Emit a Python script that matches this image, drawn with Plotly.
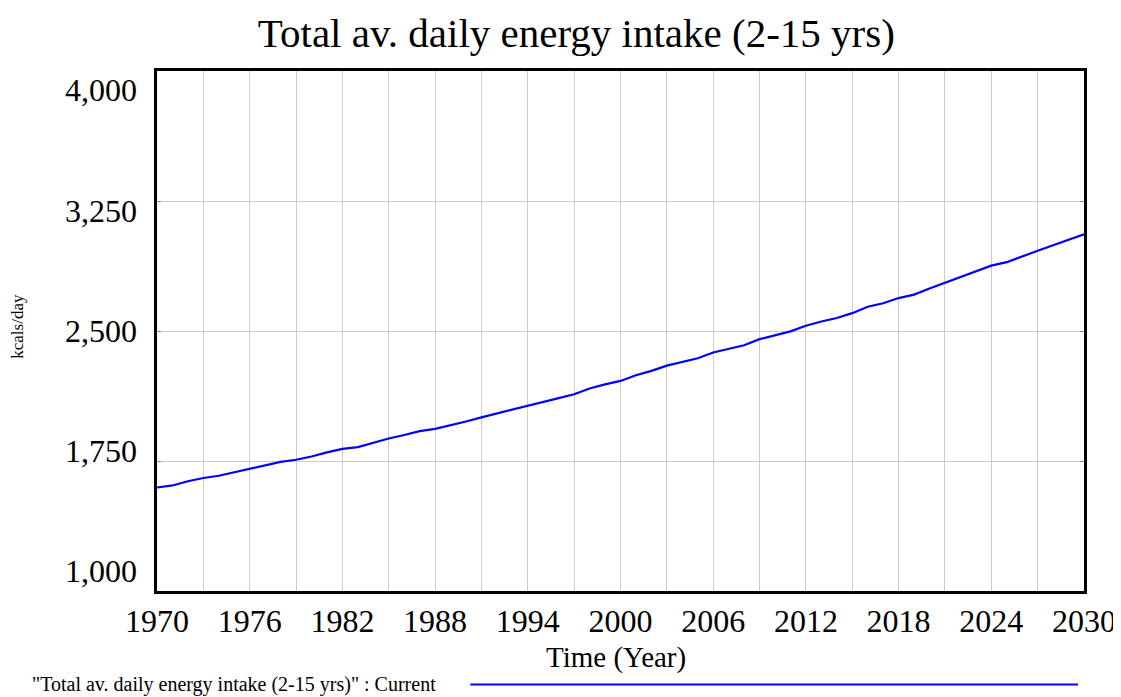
import plotly.graph_objects as go

# Data
years = list(range(1970, 2031))
intake = [
    1597, 1609, 1633, 1652, 1665, 1686, 1706, 1726, 1745, 1757,
    1776, 1800, 1820, 1830, 1855, 1880, 1900, 1922, 1935, 1955,
    1978, 2002, 2025, 2046, 2069, 2092, 2113, 2135, 2168, 2192,
    2212, 2245, 2270, 2300, 2322, 2343, 2376, 2398, 2418, 2453,
    2475, 2498, 2530, 2555, 2575, 2603, 2640, 2660, 2690, 2710,
    2745, 2778, 2812, 2847, 2877, 2897, 2928, 2963, 2995, 3027,
    3058,
]
y_ticks = [1000, 1750, 2500, 3250, 4000]
x_ticks = list(range(1970, 2031, 6))

SERIF = "Liberation Serif, Times New Roman, serif"

fig = go.Figure()
fig.add_trace(go.Scatter(
    x=years, y=intake, mode="lines",
    line=dict(color="#0000ff", width=2.2),
    showlegend=False,
))
# invisible trace carrying the (inset) y tick labels
fig.add_trace(go.Scatter(
    x=[years[0]], y=[y_ticks[0]], yaxis="y2", mode="markers",
    marker=dict(opacity=0), showlegend=False, hoverinfo="skip",
))

fig.update_layout(
    width=1121, height=697,
    margin=dict(l=149, r=45, t=63, b=114),
    paper_bgcolor="white", plot_bgcolor="white",
    font=dict(family=SERIF, color="black"),
    title=dict(text="Total av. daily energy intake (2-15 yrs)",
               x=0.507, xanchor="center", y=0.965, yanchor="middle",
               font=dict(size=41, family=SERIF)),
    xaxis=dict(
        range=[1970, 2030], tickvals=x_ticks,
        tickfont=dict(size=32), ticks="",
        showgrid=True, gridcolor="#cccccc", gridwidth=1,
        minor=dict(dtick=3, tick0=1970, showgrid=True, gridcolor="#cccccc"),
        showline=True, linecolor="black", linewidth=3, mirror=True,
        zeroline=False,
    ),
    yaxis=dict(
        range=[1000, 4000], tickvals=y_ticks, showticklabels=False,
        ticks="inside", ticklen=4, tickcolor="#888888",
        showgrid=True, gridcolor="#cccccc", gridwidth=1,
        showline=True, linecolor="black", linewidth=3, mirror="allticks",
        zeroline=False,
    ),
    yaxis2=dict(
        overlaying="y", side="left", range=[875, 4120],
        tickvals=y_ticks, tickformat=",", tickfont=dict(size=32),
        showgrid=False, zeroline=False, showline=False, ticks="",
        ticklabelstandoff=19,
    ),
)

# axis titles
fig.add_annotation(
    text="Time (Year)", xref="paper", yref="paper", x=0.495, y=-0.127,
    xanchor="center", yanchor="middle", showarrow=False,
    font=dict(size=29, family=SERIF),
)
fig.add_annotation(
    text="kcals/day", xref="paper", yref="paper", x=-0.15, y=0.51,
    xanchor="center", yanchor="middle", showarrow=False, textangle=-90,
    font=dict(size=17, family=SERIF),
)

# legend row at the bottom
fig.add_annotation(
    text='"Total av. daily energy intake (2-15 yrs)" : Current',
    xref="paper", yref="paper", x=-0.137, y=-0.18,
    xanchor="left", yanchor="middle", showarrow=False,
    font=dict(size=20, family=SERIF),
)
fig.add_shape(
    type="line", xref="paper", yref="paper",
    x0=0.338, x1=0.9935, y0=-0.18, y1=-0.18,
    line=dict(color="#0000ff", width=2),
)

fig.write_html("out.html")
